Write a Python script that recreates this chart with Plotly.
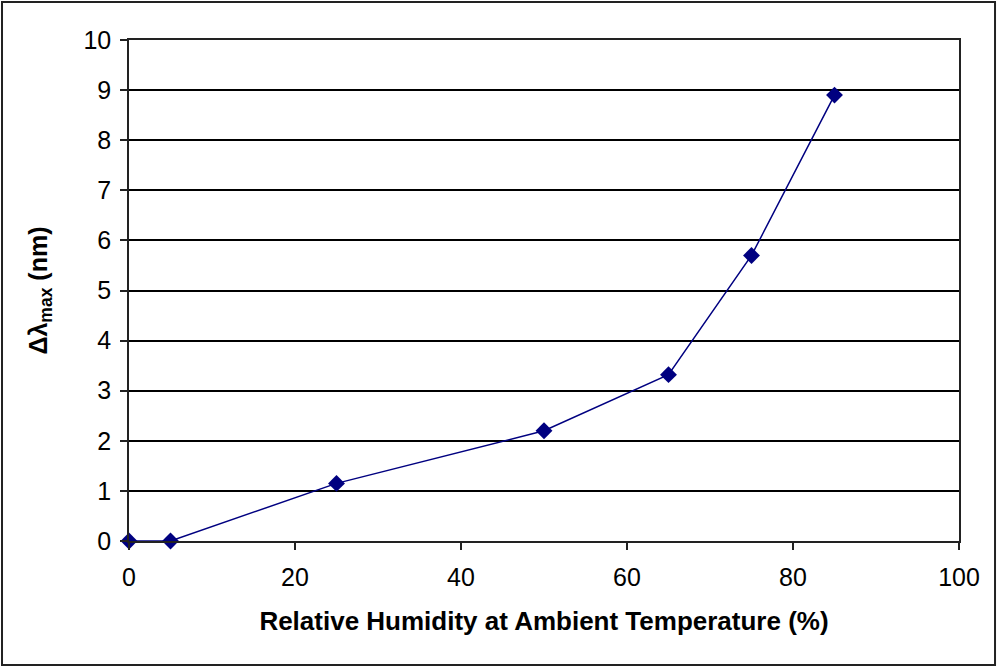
import plotly.graph_objects as go

humidity = [0, 5, 25, 50, 65, 75, 85]
delta_lambda = [0, 0, 1.15, 2.2, 3.32, 5.7, 8.9]

x_ticks = [0, 20, 40, 60, 80, 100]
y_ticks = list(range(0, 11))

fig = go.Figure()
fig.add_trace(go.Scatter(
    x=humidity, y=delta_lambda, mode="lines+markers",
    line=dict(color="#000080", width=1.5),
    marker=dict(symbol="diamond", size=13, color="#000080"),
    cliponaxis=False, showlegend=False,
))

font_family = "Liberation Sans, Arial, sans-serif"
fig.update_layout(
    width=1000, height=667,
    margin=dict(l=129, r=41, t=40, b=126),
    paper_bgcolor="white", plot_bgcolor="white",
    font=dict(family=font_family, color="black", size=25),
    xaxis=dict(
        range=[0, 100], tickvals=x_ticks, ticks="outside", ticklen=7,
        tickcolor="#222", tickwidth=1.5, ticklabelstandoff=6,
        showline=True, linecolor="#222", linewidth=1.5, mirror=True,
        showgrid=False, zeroline=False,
        tickfont=dict(size=25),
        title=dict(text="<b>Relative Humidity at Ambient Temperature (%)</b>",
                   font=dict(size=26), standoff=22),
    ),
    yaxis=dict(
        range=[0, 10], tickvals=y_ticks, ticks="outside", ticklen=7,
        tickcolor="#222", tickwidth=1.5, ticklabelstandoff=4,
        showline=True, linecolor="#222", linewidth=1.5, mirror=True,
        showgrid=True, gridcolor="black", gridwidth=1.5, zeroline=False,
        tickfont=dict(size=25),
        title=dict(text="<b>Δλ<sub>max</sub> (nm)</b>",
                   font=dict(size=25), standoff=29),
    ),
    shapes=[dict(type="rect", xref="paper", yref="paper",
                 x0=-0.153, x1=1.0434, y0=-0.2475, y1=1.0758,
                 line=dict(color="#222", width=2), layer="below")],
)

fig.write_html("out.html", config={"displayModeBar": False},
               post_script="document.body.style.margin='0';document.body.style.overflow='hidden';")
